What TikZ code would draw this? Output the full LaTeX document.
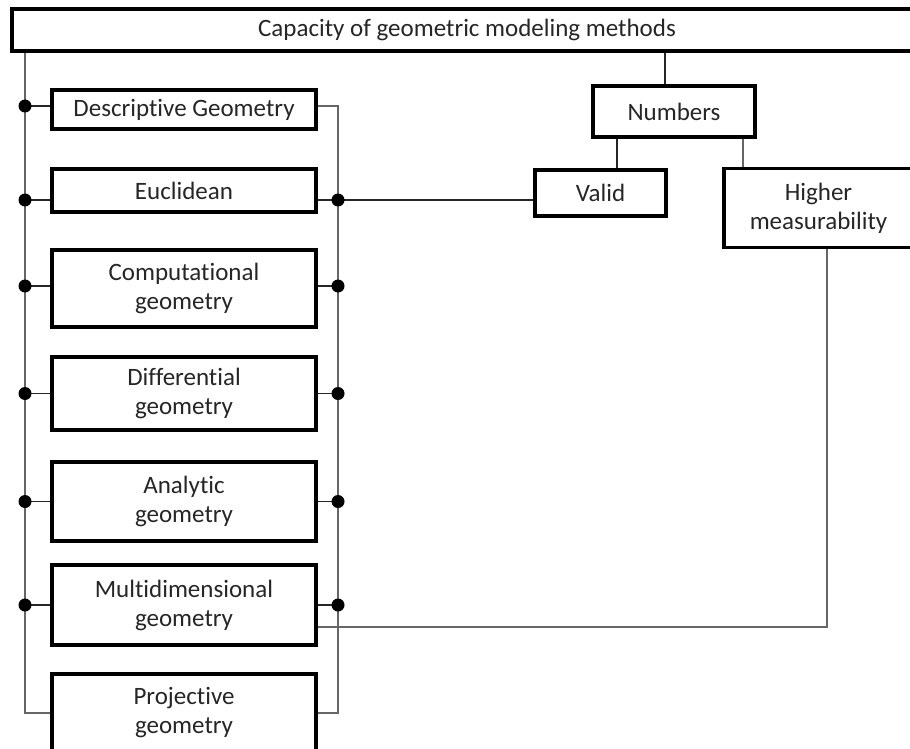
\documentclass[tikz,border=0pt]{standalone}
\usepackage{fontspec}
\setmainfont{Carlito}[Ligatures=NoCommon]

\begin{document}
\begin{tikzpicture}[x=1pt,y=-1pt,font=\fontsize{25}{29}\selectfont,
    box/.style={draw,line width=3.5pt,align=center,inner sep=0pt,text=black!85},
    wire/.style={line width=1.2pt,black!60},
    stub/.style={line width=1.4pt,black!85}]

\useasboundingbox (0,0) rectangle (910,749);

% headline
\node[box,minimum width=910pt,minimum height=42pt] (Top) at (467,30)
    {Capacity of geometric modeling methods};

% branches of geometry
\node[box,minimum width=264pt,minimum height=39pt] (De) at (184,109.5)
    {Descriptive Geometry};

\node[box,minimum width=264pt,minimum height=43pt] (Eu) at (184,190.5)
    {Euclidean};

\node[box,minimum width=264pt,minimum height=77pt] (Co) at (184,288.5)
    {Computational\\geometry};

\node[box,minimum width=264pt,minimum height=73pt] (Di) at (184,393.5)
    {Differential\\geometry};

\node[box,minimum width=264pt,minimum height=79pt] (An) at (184,501.5)
    {Analytic\\geometry};

\node[box,minimum width=264pt,minimum height=80pt] (Mu) at (184,605)
    {Multidimensional\\geometry};

\node[box,minimum width=264pt,minimum height=78pt] (Pr) at (184,713)
    {Projective\\geometry};

% numbers
\node[box,minimum width=162pt,minimum height=51pt] (Nu) at (674,111.5) {Numbers};

\node[box,minimum width=131pt,minimum height=46pt] (Va) at (600.5,193) {Valid};

\node[box,minimum width=189pt,minimum height=79pt] (Hi) at (818.5,208)
    {Higher\\measurability};

% left and right bus
\coordinate (L) at (25,0);

\coordinate (R) at (338,0);

\draw[wire] (Top.south -| L) -- (Pr.west -| L) -- (Pr.west);

\draw[wire] ([yshift=3.5pt]De.east) -- ([yshift=3.5pt]De.east -| R)
    -- (Pr.east -| R) -- (Pr.east);

% stubs on the left
\draw[stub] ([yshift=3.5pt]De.west) -- ([yshift=3.5pt]De.west -| L);

\fill ([yshift=3.5pt]De.west -| L) circle (6.5);

\draw[stub] ([yshift=-9.5pt]Eu.west) -- ([yshift=-9.5pt]Eu.west -| L);

\fill ([yshift=-9.5pt]Eu.west -| L) circle (6.5);

\draw[stub] ([yshift=2.5pt]Co.west) -- ([yshift=2.5pt]Co.west -| L);

\fill ([yshift=2.5pt]Co.west -| L) circle (6.5);

\draw[stub] (Di.west) -- (Di.west -| L);

\fill (Di.west -| L) circle (6.5);

\draw[stub] (An.west) -- (An.west -| L);

\fill (An.west -| L) circle (6.5);

\draw[stub] (Mu.west) -- (Mu.west -| L);

\fill (Mu.west -| L) circle (6.5);

% stubs on the right
\draw[stub] ([yshift=-9.5pt]Eu.east) -- ([yshift=-9.5pt]Eu.east -| Va.west);

\fill ([yshift=-9.5pt]Eu.east -| R) circle (6.5);

\draw[stub] ([yshift=2.5pt]Co.east) -- ([yshift=2.5pt]Co.east -| R);

\fill ([yshift=2.5pt]Co.east -| R) circle (6.5);

\draw[stub] (Di.east) -- (Di.east -| R);

\fill (Di.east -| R) circle (6.5);

\draw[stub] (An.east) -- (An.east -| R);

\fill (An.east -| R) circle (6.5);

\draw[stub] (Mu.east) -- (Mu.east -| R);

\fill (Mu.east -| R) circle (6.5);

% numbers tree
\draw[stub] ([xshift=-9pt]Nu.north) -- ([xshift=-9pt]Nu.north |- Top.south);

\draw[stub] ([xshift=-57pt]Nu.south) -- ([xshift=16.5pt]Va.north);

\draw[wire] ([xshift=69pt]Nu.south) -- ([xshift=-75.5pt]Hi.north);

\draw[wire] ([xshift=8.5pt]Hi.south) |- ([yshift=-22pt]Mu.east);

\end{tikzpicture}
\end{document}
